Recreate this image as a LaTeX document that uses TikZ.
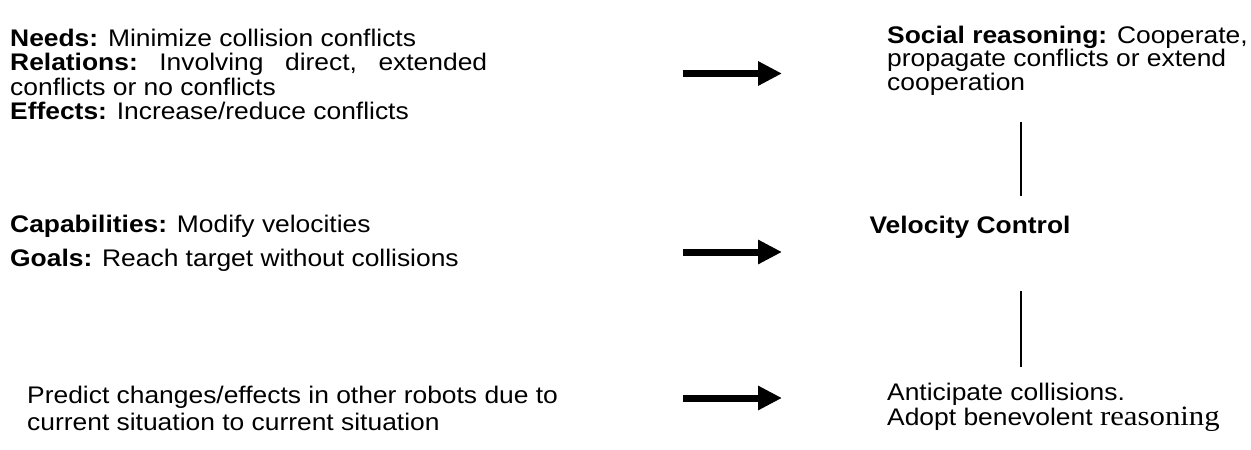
\documentclass[tikz,border=0pt]{standalone}
\usepackage{fontspec}
\setmainfont{Liberation Sans}[FakeStretch=1.1]
\newfontfamily\serifpart{Liberation Serif}[FakeStretch=1.1]
\usetikzlibrary{arrows.meta}
\tikzset{
  txt/.style={anchor=base west, inner sep=0pt, align=left, font=\fontsize{24}{23}\selectfont},
  bigarrow/.style={line width=7pt, -{Triangle[length=24pt,width=23pt]}},
  vline/.style={line width=2pt}
}
\begin{document}
\begin{tikzpicture}[x=1pt,y=-1pt]
\useasboundingbox (0,0) rectangle (1251,450);
% left column (anchor = baseline of the last line)
\node[txt, font=\fontsize{24}{24.5}\selectfont] (needs) at (10,119.5) {\textbf{Needs:} Minimize collision conflicts\\
\hbox to 477pt{\textbf{Relations:}\hfil Involving\hfil direct,\hfil extended}\\
conflicts or no conflicts\\
\textbf{Effects:} Increase/reduce conflicts};
\node[txt, font=\fontsize{24}{34}\selectfont] (cap) at (10,266) {\textbf{Capabilities:} Modify velocities\\
\textbf{Goals:} Reach target without collisions};
\node[txt, font=\fontsize{24}{27}\selectfont] (pred) at (27,430) {Predict changes/effects in other robots due to\\
current situation to current situation};
% right column
\node[txt, font=\fontsize{24}{23.5}\selectfont] (social) at (887,90) {\textbf{Social reasoning:} Cooperate,\\
propagate conflicts or extend\\
cooperation};
\node[txt, anchor=base] (vel) at (970,233) {\textbf{Velocity Control}};
\node[txt, font=\fontsize{24}{25}\selectfont] (antic) at (887,425) {Anticipate collisions.\\
Adopt benevolent {\serifpart\fontsize{28}{25}\selectfont reasoning}};
% arrows
\coordinate (a1s) at (683,73.5); \coordinate (a1e) at (782,73.5);
\coordinate (a2s) at (683,252); \coordinate (a2e) at (782,252);
\coordinate (a3s) at (683,398); \coordinate (a3e) at (782,398);
\draw[bigarrow] (a1s) -- (a1e);
\draw[bigarrow] (a2s) -- (a2e);
\draw[bigarrow] (a3s) -- (a3e);
% vertical lines
\coordinate (v1s) at (1021,122); \coordinate (v1e) at (1021,196);
\coordinate (v2s) at (1021,291); \coordinate (v2e) at (1021,367);
\draw[vline] (v1s) -- (v1e);
\draw[vline] (v2s) -- (v2e);
\end{tikzpicture}
\end{document}
